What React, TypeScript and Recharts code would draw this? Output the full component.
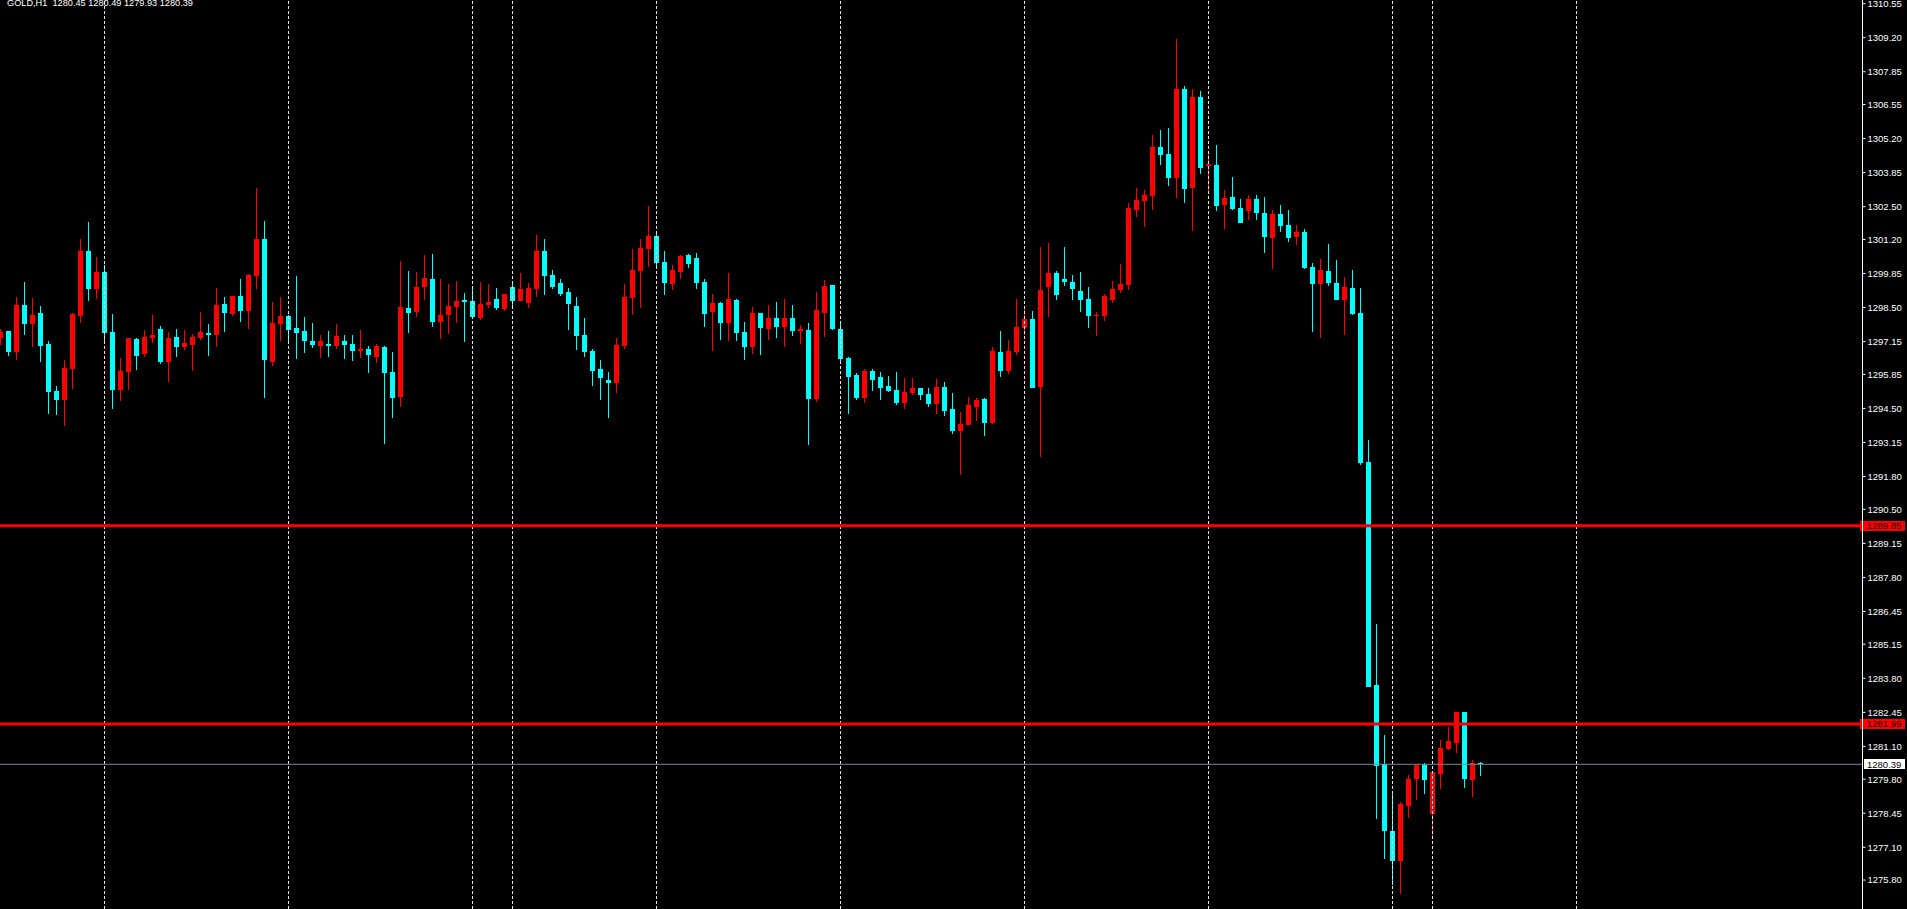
import React from "react"
import { ComposedChart, Bar, XAxis, YAxis, ReferenceLine } from "recharts"

// GOLD H1 bars, oldest first
const opens = [
  1297.31, 1297.57, 1296.74, 1298.60, 1297.85, 1298.28, 1297.05, 1295.19, 1294.83, 1296.06,
  1298.17, 1300.74, 1299.24, 1299.91, 1297.53, 1295.23, 1295.94, 1297.25, 1296.66, 1297.29,
  1297.65, 1296.34, 1297.33, 1296.94, 1297.02, 1297.29, 1297.49, 1297.41, 1298.64, 1298.24,
  1298.96, 1298.36, 1299.75, 1301.22, 1296.34, 1297.85, 1298.17, 1297.69, 1297.57, 1297.17,
  1296.98, 1297.05, 1296.98, 1297.17, 1297.05, 1296.78, 1296.86, 1296.54, 1296.94, 1295.94,
  1294.95, 1298.48, 1298.32, 1299.32, 1299.63, 1297.93, 1298.20, 1298.52, 1298.80, 1298.76,
  1298.09, 1298.60, 1298.84, 1298.44, 1299.32, 1298.76, 1298.68, 1299.24, 1300.74, 1299.79,
  1299.47, 1299.12, 1298.56, 1297.41, 1296.78, 1296.06, 1295.63, 1295.51, 1296.98, 1298.88,
  1299.95, 1300.82, 1301.34, 1300.31, 1299.43, 1299.91, 1300.58, 1300.46, 1299.51, 1298.32,
  1298.68, 1297.89, 1298.80, 1297.53, 1296.94, 1298.28, 1297.65, 1298.09, 1297.73, 1298.09,
  1297.57, 1297.61, 1294.87, 1298.28, 1299.39, 1297.65, 1296.50, 1295.83, 1294.91, 1295.98,
  1295.75, 1295.39, 1295.23, 1294.72, 1295.11, 1295.31, 1295.07, 1294.68, 1295.35, 1294.48,
  1293.61, 1293.84, 1294.56, 1294.87, 1293.92, 1296.74, 1295.98, 1296.74, 1297.69, 1298.05,
  1295.35, 1299.31, 1299.87, 1299.63, 1299.51, 1299.16, 1298.84, 1298.16, 1298.16, 1298.80,
  1299.20, 1299.39, 1302.37, 1302.72, 1302.92, 1304.87, 1304.59, 1303.64, 1307.17, 1303.24,
  1306.85, 1304.11, 1304.15, 1302.57, 1302.88, 1302.45, 1302.33, 1302.80, 1302.25, 1301.26,
  1302.21, 1301.77, 1301.30, 1301.50, 1300.11, 1299.43, 1299.95, 1299.47, 1298.80, 1299.28,
  1298.28, 1292.38, 1283.53, 1280.40, 1277.74, 1276.56, 1278.74, 1279.81, 1280.36, 1278.42,
  1280.00, 1281.00, 1281.23, 1282.46, 1279.77, 1280.45,
]

const highs = [
  1297.64, 1297.57, 1298.93, 1299.51, 1298.88, 1298.56, 1297.17, 1295.39, 1296.42, 1298.28,
  1301.22, 1301.89, 1300.50, 1300.19, 1298.24, 1296.50, 1297.29, 1297.29, 1297.61, 1298.20,
  1297.77, 1297.53, 1297.65, 1297.61, 1297.45, 1298.32, 1297.85, 1299.28, 1298.92, 1298.96,
  1299.63, 1299.83, 1303.24, 1301.93, 1298.72, 1298.92, 1298.20, 1299.75, 1298.13, 1297.89,
  1297.41, 1297.57, 1297.85, 1297.41, 1297.41, 1297.61, 1296.98, 1297.05, 1296.98, 1296.74,
  1300.35, 1299.95, 1299.91, 1300.58, 1300.62, 1299.63, 1299.43, 1299.55, 1299.08, 1299.28,
  1299.51, 1299.43, 1299.28, 1299.04, 1299.43, 1299.87, 1299.47, 1301.38, 1301.22, 1299.99,
  1299.63, 1299.28, 1298.92, 1298.09, 1296.86, 1296.42, 1295.94, 1297.29, 1299.43, 1300.82,
  1301.22, 1302.53, 1301.50, 1300.74, 1300.19, 1300.58, 1300.62, 1300.66, 1299.63, 1299.04,
  1298.72, 1299.87, 1298.84, 1297.93, 1298.52, 1298.28, 1298.60, 1298.72, 1298.84, 1298.60,
  1297.81, 1297.89, 1299.12, 1299.59, 1299.39, 1297.97, 1296.54, 1295.91, 1296.06, 1296.06,
  1295.95, 1295.79, 1295.95, 1295.71, 1295.71, 1295.31, 1295.31, 1295.67, 1295.55, 1295.11,
  1294.36, 1294.95, 1294.91, 1294.91, 1296.94, 1297.57, 1297.21, 1298.84, 1298.56, 1298.36,
  1300.90, 1301.06, 1299.95, 1300.90, 1299.79, 1299.91, 1299.31, 1298.32, 1299.04, 1299.55,
  1300.23, 1302.65, 1303.24, 1303.16, 1305.34, 1305.54, 1305.62, 1309.15, 1307.28, 1307.17,
  1307.09, 1304.59, 1304.94, 1303.16, 1303.68, 1302.80, 1302.96, 1302.96, 1302.88, 1302.37,
  1302.57, 1302.37, 1301.77, 1301.61, 1300.27, 1300.43, 1301.02, 1300.39, 1299.71, 1300.00,
  1299.28, 1293.25, 1285.95, 1281.55, 1279.29, 1278.89, 1279.97, 1280.36, 1280.44, 1280.08,
  1281.35, 1281.87, 1282.46, 1282.46, 1280.56, 1280.49,
]

const lows = [
  1297.02, 1296.58, 1296.42, 1297.41, 1296.95, 1296.34, 1294.28, 1294.24, 1293.80, 1295.27,
  1297.89, 1298.76, 1298.84, 1297.17, 1294.48, 1294.79, 1295.23, 1296.02, 1296.54, 1297.10,
  1296.26, 1295.55, 1296.54, 1296.82, 1295.98, 1297.21, 1296.58, 1296.94, 1297.53, 1298.17,
  1297.93, 1297.65, 1299.24, 1294.91, 1296.18, 1297.17, 1297.05, 1296.46, 1296.70, 1296.90,
  1296.50, 1296.54, 1296.86, 1296.46, 1296.38, 1296.50, 1295.90, 1296.30, 1293.10, 1294.12,
  1294.56, 1297.49, 1298.13, 1298.80, 1297.73, 1297.25, 1297.45, 1297.89, 1297.13, 1298.13,
  1298.01, 1298.48, 1298.40, 1298.36, 1298.44, 1298.76, 1298.48, 1298.92, 1299.00, 1299.24,
  1298.96, 1297.61, 1296.82, 1296.54, 1295.39, 1294.83, 1294.12, 1295.11, 1296.86, 1298.20,
  1298.48, 1300.11, 1300.15, 1299.00, 1299.20, 1299.63, 1300.07, 1299.24, 1297.73, 1296.78,
  1297.21, 1297.17, 1297.17, 1296.42, 1296.66, 1296.62, 1297.21, 1297.29, 1296.94, 1297.37,
  1297.06, 1293.05, 1294.76, 1297.33, 1297.61, 1296.30, 1294.28, 1294.83, 1294.72, 1295.19,
  1294.83, 1295.15, 1294.64, 1294.48, 1295.03, 1294.83, 1294.56, 1294.28, 1294.20, 1293.49,
  1291.86, 1293.84, 1294.00, 1293.41, 1293.88, 1295.75, 1295.87, 1296.62, 1297.41, 1295.31,
  1292.57, 1298.13, 1298.80, 1299.35, 1298.80, 1298.32, 1297.69, 1297.37, 1297.97, 1298.68,
  1299.08, 1299.20, 1302.09, 1301.69, 1302.37, 1304.15, 1303.32, 1302.84, 1302.65, 1301.54,
  1303.80, 1303.12, 1302.33, 1301.61, 1302.37, 1301.85, 1301.97, 1301.97, 1300.66, 1300.03,
  1301.50, 1301.10, 1300.98, 1300.03, 1297.53, 1297.29, 1299.35, 1298.80, 1297.41, 1298.20,
  1292.26, 1283.45, 1278.22, 1276.63, 1275.60, 1275.25, 1278.26, 1278.97, 1279.21, 1277.55,
  1279.41, 1280.96, 1280.84, 1279.45, 1279.09, 1279.93,
]

const closes = [
  1297.53, 1296.74, 1298.60, 1297.85, 1298.20, 1296.98, 1295.15, 1294.83, 1296.10, 1298.24,
  1300.74, 1299.24, 1299.91, 1297.49, 1295.23, 1295.98, 1297.29, 1296.58, 1297.33, 1297.41,
  1296.34, 1297.29, 1296.94, 1297.10, 1297.33, 1297.53, 1297.41, 1298.60, 1298.28, 1298.96,
  1298.36, 1299.79, 1301.22, 1296.42, 1297.89, 1298.17, 1297.61, 1297.49, 1297.17, 1297.02,
  1297.17, 1296.98, 1297.37, 1297.02, 1296.78, 1296.86, 1296.62, 1296.98, 1295.90, 1294.91,
  1298.52, 1298.28, 1299.32, 1299.67, 1297.93, 1298.20, 1298.56, 1298.76, 1298.72, 1298.13,
  1298.64, 1298.72, 1298.48, 1299.04, 1298.76, 1299.24, 1299.28, 1300.74, 1299.75, 1299.32,
  1299.04, 1298.64, 1297.37, 1296.74, 1295.98, 1295.71, 1295.51, 1297.01, 1298.92, 1299.99,
  1300.86, 1301.34, 1300.27, 1299.47, 1299.99, 1300.54, 1300.23, 1299.47, 1298.24, 1298.68,
  1297.89, 1298.84, 1297.49, 1296.94, 1298.28, 1297.69, 1298.09, 1297.73, 1298.09, 1297.57,
  1297.65, 1294.87, 1298.40, 1299.36, 1297.65, 1296.46, 1295.75, 1294.91, 1295.98, 1295.63,
  1295.31, 1295.19, 1294.72, 1295.15, 1295.31, 1295.03, 1294.68, 1295.35, 1294.40, 1293.61,
  1293.88, 1294.64, 1294.84, 1293.92, 1296.78, 1295.98, 1296.78, 1297.73, 1298.05, 1295.31,
  1299.20, 1299.87, 1299.00, 1299.51, 1299.24, 1298.80, 1298.16, 1298.20, 1298.96, 1299.24,
  1299.43, 1302.45, 1302.76, 1302.96, 1304.87, 1304.55, 1303.64, 1307.17, 1303.20, 1306.85,
  1304.03, 1304.19, 1302.53, 1302.84, 1302.41, 1301.85, 1302.80, 1302.25, 1301.30, 1302.21,
  1301.73, 1301.26, 1301.50, 1300.07, 1299.43, 1299.99, 1299.47, 1298.80, 1299.32, 1298.24,
  1292.34, 1283.45, 1280.32, 1277.74, 1276.56, 1278.81, 1279.81, 1280.36, 1279.77, 1280.08,
  1281.04, 1281.31, 1282.46, 1279.81, 1280.44, 1280.39,
]

// bar index where each new trading day starts (dashed separators)
const dayStarts = [13, 36, 59, 64, 82, 105, 128, 151, 174, 179, 197]

const priceTicks = [
  1310.55, 1309.2, 1307.85, 1306.55, 1305.2, 1303.85, 1302.5, 1301.2, 1299.85,
  1298.5, 1297.15, 1295.85, 1294.5, 1293.15, 1291.8, 1290.5, 1289.15, 1287.8,
  1286.45, 1285.15, 1283.8, 1282.45, 1281.1, 1279.8, 1278.45, 1277.1, 1275.8,
]

const levels = [1289.85, 1281.99]
const bid = 1280.39
const slots = 233

const BULL = "#ff0000"
const BEAR = "#00ffff"
const FONT = "'Liberation Sans', Arial, sans-serif"

const data = Array.from({ length: slots }, (_, i) =>
  i < opens.length
    ? { i, open: opens[i], high: highs[i], low: lows[i], close: closes[i], range: [lows[i], highs[i]] }
    : { i }
)

function Candle(props: any) {
  const { x, y, width, height } = props
  const c = props.payload ?? props
  if (c == null || c.open == null) return null
  const top = Math.min(y, y + height)
  const bottom = Math.max(y, y + height)
  const span = c.high - c.low
  const ppu = span > 0 ? (bottom - top) / span : 0
  const py = (p: number) => top + (c.high - p) * ppu
  const cx = x + width / 2
  const color = c.close > c.open ? BULL : BEAR
  const bTop = py(Math.max(c.open, c.close))
  const bBot = py(Math.min(c.open, c.close))
  return (
    <g shapeRendering="crispEdges">
      <rect x={cx - 0.5} y={top} width={1} height={Math.max(bottom - top, 1)} fill={color} />
      <rect x={cx - 2.5} y={bTop} width={5} height={Math.max(bBot - bTop, 1)} fill={color} />
    </g>
  )
}

function PriceTag({ viewBox, text, bg, fg, inset }: any) {
  if (!viewBox) return null
  const left = viewBox.x + viewBox.width + inset
  return (
    <g shapeRendering="crispEdges">
      <rect x={left} y={viewBox.y - 5} width={1905 - left} height={10} fill={bg} />
      <text x={1867} y={viewBox.y + 3.5} fill={fg} fontSize={9.5} fontFamily={FONT}>
        {text}
      </text>
    </g>
  )
}

export default function App() {
  return (
    <div style={{ position: "fixed", left: 0, top: 0, width: 1907, height: 909, background: "#000", overflow: "hidden" }}>
      <ComposedChart width={1907} height={909} data={data} margin={{ top: 0, right: 0, bottom: 0, left: -3.5 }}>
        <XAxis dataKey="i" type="category" hide padding={{ left: 0, right: 2 }} />
        <YAxis
          orientation="right"
          type="number"
          width={44.5}
          domain={[1274.652, 1310.695]}
          allowDataOverflow
          ticks={priceTicks}
          interval={0}
          axisLine={{ stroke: "#ffffff" }}
          tickLine={{ stroke: "#ffffff" }}
          tickSize={3}
          tickMargin={2}
          tick={{ fill: "#ffffff", fontSize: 9.5, fontFamily: FONT }}
          tickFormatter={(v: number) => v.toFixed(2)}
        />
        {dayStarts.map((d) => (
          <ReferenceLine key={d} x={d} stroke="#e6e6e6" strokeDasharray="3 2" shapeRendering="crispEdges" />
        ))}
        <Bar dataKey="range" shape={<Candle />} isAnimationActive={false} />
        {levels.map((lv) => (
          <ReferenceLine
            key={lv}
            y={lv}
            stroke="#ff0000"
            strokeWidth={3}
            label={<PriceTag text={lv.toFixed(2)} bg="#ff0000" fg="#000000" inset={-2.5} />}
          />
        ))}
        <ReferenceLine
          y={bid}
          stroke="#778899"
          strokeWidth={1}
          label={<PriceTag text={bid.toFixed(2)} bg="#ffffff" fg="#000000" inset={1.5} />}
        />
      </ComposedChart>
      <svg width={320} height={20} style={{ position: "absolute", left: 0, top: 0 }}>
        <text x={7} y={6} fill="#ffffff" fontSize={9.2} fontFamily={FONT} style={{ whiteSpace: "pre" }}>
          {"GOLD,H1  1280.45 1280.49 1279.93 1280.39"}
        </text>
      </svg>
    </div>
  )
}
